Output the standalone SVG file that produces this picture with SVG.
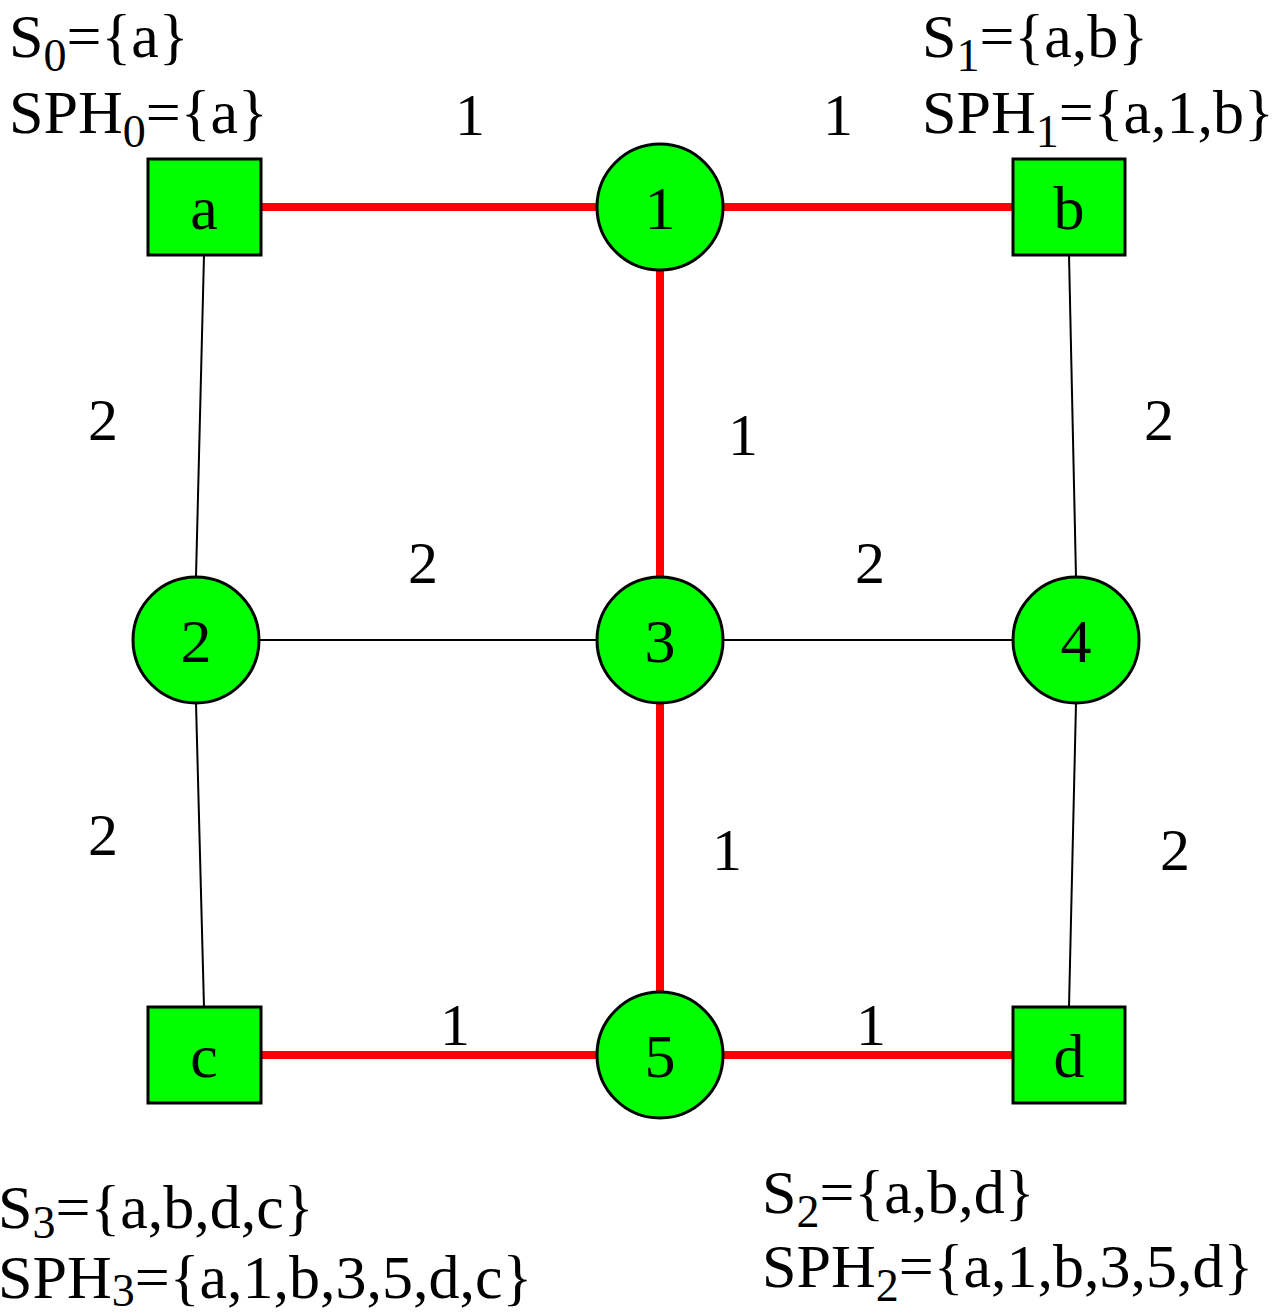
<svg xmlns="http://www.w3.org/2000/svg" width="1286" height="1315" viewBox="0 0 1286 1315">
<style>
text{font-family:"Liberation Serif","Times New Roman",serif;fill:#000}
.lbl{font-size:62px}
.nt{font-size:62px;text-anchor:middle}
.el{font-size:60px;text-anchor:middle}
.sub{font-size:46px}
.box{fill:#00ff00;stroke:#000;stroke-width:3}
.red{stroke:#ff0000;stroke-width:8;fill:none}
.blk{stroke:#000;stroke-width:2;fill:none}
</style>
<rect width="1286" height="1315" fill="#fff"/>
<g id="connectors">
<line class="red" x1="261" y1="207" x2="597" y2="207"/>
<line class="red" x1="723" y1="207" x2="1013" y2="207"/>
<line class="red" x1="660" y1="270" x2="660" y2="577"/>
<line class="red" x1="660" y1="703" x2="660" y2="992"/>
<line class="red" x1="261" y1="1055" x2="597" y2="1055"/>
<line class="red" x1="723" y1="1055" x2="1013" y2="1055"/>
<line class="blk" x1="204" y1="255" x2="196" y2="577"/>
<line class="blk" x1="196" y1="703" x2="204" y2="1007"/>
<line class="blk" x1="1069" y1="255" x2="1076" y2="577"/>
<line class="blk" x1="1076" y1="703" x2="1069" y2="1007"/>
<line class="blk" x1="259" y1="640" x2="597" y2="640"/>
<line class="blk" x1="723" y1="640" x2="1013" y2="640"/>
</g>
<g id="edge-labels">
<text class="el" x="470" y="135">1</text>
<text class="el" x="838" y="135">1</text>
<text class="el" x="103" y="440">2</text>
<text class="el" x="743" y="455">1</text>
<text class="el" x="1159" y="440">2</text>
<text class="el" x="423" y="583">2</text>
<text class="el" x="870" y="583">2</text>
<text class="el" x="103" y="855">2</text>
<text class="el" x="727" y="870">1</text>
<text class="el" x="1175" y="870">2</text>
<text class="el" x="455" y="1045">1</text>
<text class="el" x="871" y="1045">1</text>
</g>
<g id="node-a"><rect class="box" x="148" y="159" width="113" height="96"/><text class="nt" x="204" y="229">a</text></g>
<g id="node-b"><rect class="box" x="1013" y="159" width="112" height="96"/><text class="nt" x="1069" y="229">b</text></g>
<g id="node-c"><rect class="box" x="148" y="1007" width="113" height="96"/><text class="nt" x="204" y="1077">c</text></g>
<g id="node-d"><rect class="box" x="1013" y="1007" width="112" height="96"/><text class="nt" x="1069" y="1077">d</text></g>
<g id="node-1"><circle class="box" cx="660" cy="207" r="63"/><text class="nt" x="660" y="229">1</text></g>
<g id="node-2"><circle class="box" cx="196" cy="640" r="63"/><text class="nt" x="196" y="662">2</text></g>
<g id="node-3"><circle class="box" cx="660" cy="640" r="63"/><text class="nt" x="660" y="662">3</text></g>
<g id="node-4"><circle class="box" cx="1076" cy="640" r="63"/><text class="nt" x="1076" y="662">4</text></g>
<g id="node-5"><circle class="box" cx="660" cy="1055" r="63"/><text class="nt" x="660" y="1077">5</text></g>
<g id="set-labels">
<text class="lbl" x="9" y="57">S<tspan class="sub" dy="14">0</tspan><tspan dy="-14">={a}</tspan></text>
<text class="lbl" x="9" y="133">SPH<tspan class="sub" dy="14">0</tspan><tspan dy="-14">={a}</tspan></text>
<text class="lbl" x="922" y="57">S<tspan class="sub" dy="14">1</tspan><tspan dy="-14">={a,b}</tspan></text>
<text class="lbl" x="922" y="133">SPH<tspan class="sub" dy="14">1</tspan><tspan dy="-14">={a,1,b}</tspan></text>
<text class="lbl" x="-2" y="1228">S<tspan class="sub" dy="10">3</tspan><tspan dy="-10">={a,b,d,c}</tspan></text>
<text class="lbl" x="-2" y="1298">SPH<tspan class="sub" dy="8">3</tspan><tspan dy="-8">={a,1,b,3,5,d,c}</tspan></text>
<text class="lbl" x="762" y="1213">S<tspan class="sub" dy="14">2</tspan><tspan dy="-14">={a,b,d}</tspan></text>
<text class="lbl" x="762" y="1287">SPH<tspan class="sub" dy="14">2</tspan><tspan dy="-14">={a,1,b,3,5,d}</tspan></text>
</g>
</svg>
